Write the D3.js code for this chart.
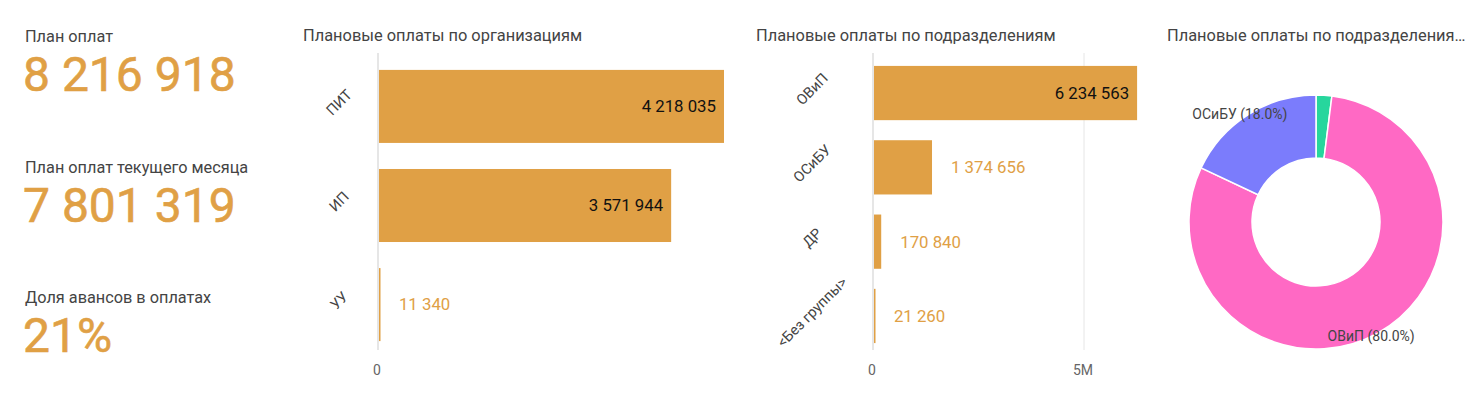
<!DOCTYPE html>
<html>
<head>
<meta charset="utf-8">
<script src="https://cdn.jsdelivr.net/npm/d3@7"></script>
<style>
  body { margin: 0; background: #fff; font-family: Roboto, "Noto Sans", sans-serif; }
  svg { display: block; }
</style>
</head>
<body>
<div id="dash"></div>
<script>
// KPI cards
const kpiLabels = ["План оплат", "План оплат текущего месяца", "Доля авансов в оплатах"];
const kpiValues = ["8 216 918", "7 801 319", "21%"];

// bars: organisations
const orgCategories = ["ПИТ", "ИП", "УУ"];
const orgValues = [4218035, 3571944, 11340];

// bars: departments
const depCategories = ["ОВиП", "ОСиБУ", "ДР", "<Без группы>"];
const depValues = [6234563, 1374656, 170840, 21260];

// donut (shares as shown, clockwise from top)
const pieLabels = ["ДР", "ОВиП", "ОСиБУ"];
const pieShares = [2.0, 80.0, 18.0];
const pieColors = ["#27d69d", "#ff69c4", "#7b7cfc"];

const barColor = "#e0a045";
const width = 1471, height = 393;

const svg = d3.select("#dash").append("svg")
  .attr("width", width)
  .attr("height", height);

const fmt = v => d3.format(",")(v).replace(/,/g, " ");

// ---- KPIs
const kpiY = [42, 173, 303];
const kpi = svg.append("g");
kpiLabels.forEach((lab, i) => {
  kpi.append("text")
    .attr("x", 25).attr("y", kpiY[i])
    .attr("font-size", 16.3).attr("fill", "#444")
    .text(lab);
  kpi.append("text")
    .attr("x", 23).attr("y", kpiY[i] + 49)
    .attr("font-size", 48).attr("fill", barColor)
    .attr("stroke", barColor).attr("stroke-width", 0.6)
    .text(kpiValues[i]);
});

// ---- horizontal bar chart helper
function drawBars(opt) {
  const g = svg.append("g");

  g.append("text")
    .attr("x", opt.titleX).attr("y", 41)
    .attr("font-size", 16.4).attr("fill", "#444")
    .text(opt.title);

  const x = d3.scaleLinear()
    .domain([0, opt.max])
    .range([opt.x0, opt.x1]);

  const y = d3.scaleBand()
    .domain(opt.cats)
    .range([opt.y0, opt.y1])
    .paddingInner(opt.padIn)
    .paddingOuter(opt.padOut);

  // gridlines
  g.selectAll(".grid")
    .data(opt.ticks)
    .enter().append("line")
    .attr("x1", d => x(d)).attr("x2", d => x(d))
    .attr("y1", 53).attr("y2", 350)
    .attr("stroke", "#e6e6e6")
    .attr("stroke-width", d => d === 0 ? 2 : 1);

  // tick labels
  g.selectAll(".tick")
    .data(opt.ticks)
    .enter().append("text")
    .attr("x", d => x(d) - 1).attr("y", 375)
    .attr("text-anchor", "middle")
    .attr("font-size", 14).attr("fill", "#666")
    .text(d => d === 0 ? "0" : d3.format(".0s")(d));

  // bars
  g.selectAll(".bar")
    .data(opt.vals)
    .enter().append("rect")
    .attr("x", x(0) + 1)
    .attr("y", (d, i) => y(opt.cats[i]))
    .attr("width", d => Math.max(1.5, x(d) - x(0)))
    .attr("height", y.bandwidth())
    .attr("fill", barColor);

  // value labels
  g.selectAll(".val")
    .data(opt.vals)
    .enter().append("text")
    .attr("y", (d, i) => y(opt.cats[i]) + y.bandwidth() / 2)
    .attr("dy", "0.35em")
    .attr("font-size", 16.8)
    .each(function(d) {
      const inside = x(d) - x(0) > 120;
      d3.select(this)
        .attr("x", inside ? x(d) - 7 : x(d) + 20)
        .attr("text-anchor", inside ? "end" : "start")
        .attr("fill", inside ? "#111" : barColor);
    })
    .text(d => fmt(d));

  // rotated category labels
  g.selectAll(".cat")
    .data(opt.cats)
    .enter().append("text")
    .attr("transform", d => "translate(" + opt.labelX + "," + (y(d) + y.bandwidth() / 2 - 4) + ")rotate(-45)")
    .attr("text-anchor", "middle")
    .attr("dy", "0.35em")
    .attr("font-size", 14.5).attr("fill", "#444")
    .text(d => d);
}

drawBars({
  title: "Плановые оплаты по организациям", titleX: 303,
  cats: orgCategories, vals: orgValues,
  max: 4218035, x0: 378, x1: 723,
  y0: 60, y1: 351, padIn: 0.263, padOut: 0.1,
  ticks: [0], labelX: 339
});

drawBars({
  title: "Плановые оплаты по подразделениям", titleX: 756,
  cats: depCategories, vals: depValues,
  max: 5000000, x0: 873, x1: 1084,
  y0: 57, y1: 352, padIn: 0.27, padOut: 0.12,
  ticks: [0, 5000000], labelX: 812
});

// ---- donut
const pg = svg.append("g");
pg.append("text")
  .attr("x", 1167).attr("y", 41)
  .attr("font-size", 16.4).attr("fill", "#444")
  .text("Плановые оплаты по подразделения…");

const cx = 1316, cy = 222, rOut = 127, rIn = 64;
const pie = d3.pie().sort(null).value(d => d)(pieShares);
const arc = d3.arc().innerRadius(rIn).outerRadius(rOut);
const labelArc = d3.arc().innerRadius(rOut + 2).outerRadius(rOut + 2);

const donut = pg.append("g").attr("transform", "translate(" + cx + "," + cy + ")");
donut.selectAll("path")
  .data(pie)
  .enter().append("path")
  .attr("d", arc)
  .attr("fill", (d, i) => pieColors[i])
  .attr("stroke", "#fff")
  .attr("stroke-width", 1.5);

donut.selectAll(".plab")
  .data(pie.filter(d => d.data >= 5))
  .enter().append("text")
  .attr("transform", d => {
    const c = labelArc.centroid(d);
    return "translate(" + (c[0] - 7) + "," + (c[1] + 1) + ")";
  })
  .attr("text-anchor", "middle")
  .attr("dy", "0.35em")
  .attr("font-size", 14).attr("fill", "#444")
  .text(d => pieLabels[d.index] + " (" + d.data.toFixed(1) + "%)");
</script>
</body>
</html>
